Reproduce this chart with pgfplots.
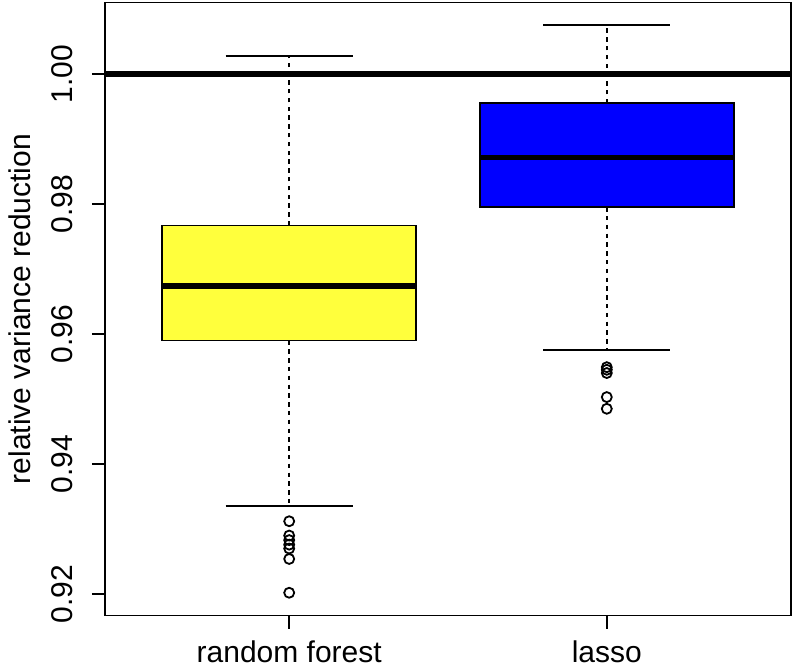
\documentclass[border=0pt]{standalone}
\usepackage{fontspec}
\setmainfont{Liberation Sans}
\usepackage{pgfplots}
\pgfplotsset{compat=1.18}

\definecolor{boxyellow}{RGB}{255,255,60}
\definecolor{boxblue}{RGB}{0,0,255}

\begin{document}
\begin{tikzpicture}
\useasboundingbox (-52.5pt,-27.25pt) rectangle (344pt,307.75pt);
\begin{axis}[
  at={(0,0)}, anchor=south west,
  scale only axis, width=343pt, height=306.5pt,
  xmin=0.42, xmax=2.58, ymin=0.9167, ymax=1.0110,
  axis line style={line width=0.9pt},
  xtick={1,2}, xticklabels={random forest, lasso},
  ytick={0.92,0.94,0.96,0.98,1.00},
  yticklabels={0.92,0.94,0.96,0.98,1.00},
  tick align=outside, xtick pos=bottom, ytick pos=left,
  major tick length=6.5pt,
  tick style={line width=0.9pt, black},
  ticklabel style={font=\fontsize{15}{18}\selectfont, inner sep=0pt},
  yticklabel style={xshift=-9.5pt, rotate=90, anchor=base},
  xticklabel style={anchor=base, yshift=-16.75pt},
  ylabel={relative variance reduction},
  every axis y label/.style={at={(axis description cs:-0.108,0.5)},
    rotate=90, anchor=base, inner sep=0pt, font=\fontsize{15}{18}\selectfont},
  every axis plot/.append style={line width=0.9pt, black},
]
% ---- random forest ----
% whiskers (dashed stems, solid caps)
\addplot[black, dash pattern=on 2.2pt off 2.2pt] coordinates {(1,0.9767) (1,1.0028)};
\addplot[black, dash pattern=on 2.2pt off 2.2pt] coordinates {(1,0.9590) (1,0.9335)};
\addplot[black, solid] coordinates {(0.8,1.0028) (1.2,1.0028)};
\addplot[black, solid] coordinates {(0.8,0.9335) (1.2,0.9335)};
% box
\addplot[draw=black, fill=boxyellow] coordinates {(0.6,0.9590) (1.4,0.9590) (1.4,0.9767) (0.6,0.9767)} -- cycle;
% median
\addplot[black, line width=2.7pt] coordinates {(0.6,0.9674) (1.4,0.9674)};
% outliers
\addplot[black, only marks, mark=o, mark size=2.5pt] coordinates {
  (1,0.9312) (1,0.9290) (1,0.9283) (1,0.9276) (1,0.9270) (1,0.9254) (1,0.9202)};

% ---- lasso ----
\addplot[black, dash pattern=on 2.2pt off 2.2pt] coordinates {(2,0.9955) (2,1.0075)};
\addplot[black, dash pattern=on 2.2pt off 2.2pt] coordinates {(2,0.9795) (2,0.9575)};
\addplot[black, solid] coordinates {(1.8,1.0075) (2.2,1.0075)};
\addplot[black, solid] coordinates {(1.8,0.9575) (2.2,0.9575)};
\addplot[draw=black, fill=boxblue] coordinates {(1.6,0.9795) (2.4,0.9795) (2.4,0.9955) (1.6,0.9955)} -- cycle;
\addplot[black, line width=2.7pt] coordinates {(1.6,0.9872) (2.4,0.9872)};
\addplot[black, only marks, mark=o, mark size=2.5pt] coordinates {
  (2,0.9549) (2,0.9545) (2,0.9540) (2,0.9503) (2,0.9485)};

% reference line at 1
\addplot[black, line width=2.7pt] coordinates {(0.42,1.00) (2.58,1.00)};
\end{axis}
\end{tikzpicture}
\end{document}
